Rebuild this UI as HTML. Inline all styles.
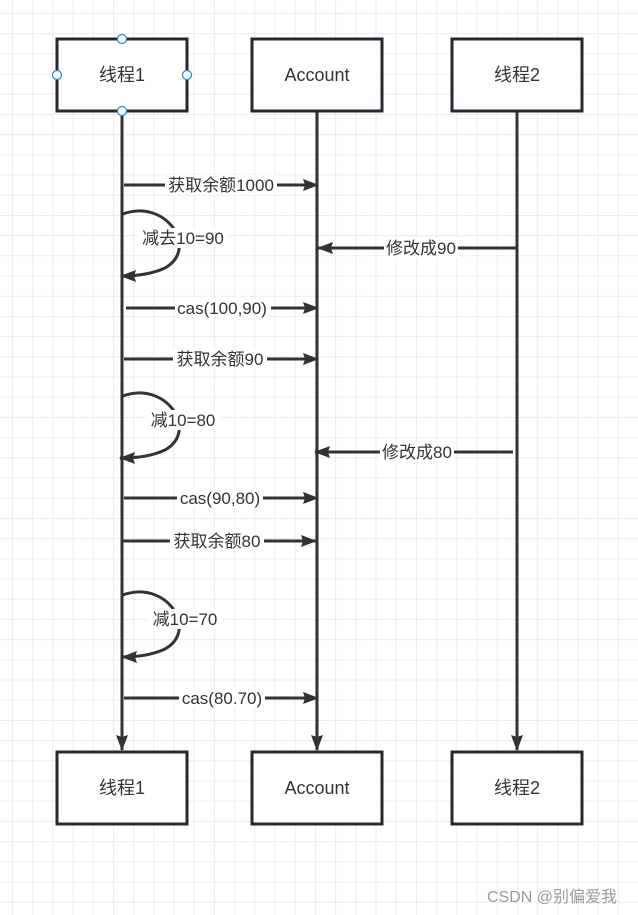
<!DOCTYPE html>
<html><head><meta charset="utf-8"><style>
html,body{margin:0;padding:0;background:#fff}
svg{display:block}
text{font-family:"Liberation Sans","Noto Sans CJK SC",sans-serif;fill:#333}
.t{font-size:17px}
.b{font-size:18px}
</style></head><body>
<svg width="638" height="915" viewBox="0 0 638 915" xmlns="http://www.w3.org/2000/svg">
<defs>
<pattern id="g" x="12" y="13" width="20.2" height="20.2" patternUnits="userSpaceOnUse">
<path d="M0 0H20.2M0 0V20.2" stroke="#e6e6e6" stroke-width="1.5" fill="none"/>
</pattern>
<marker id="a" markerWidth="16" markerHeight="12" refX="15" refY="6" orient="auto" markerUnits="userSpaceOnUse">
<path d="M0 0L16 6L0 12L2 6Z" fill="#333"/>
</marker>
</defs>
<rect width="638" height="915" fill="url(#g)"/>
<g stroke="#333" stroke-width="3" fill="none">
<line x1="122" y1="111" x2="122" y2="750" marker-end="url(#a)"/>
<line x1="317" y1="111" x2="317" y2="750" marker-end="url(#a)"/>
<line x1="517" y1="111" x2="517" y2="750" marker-end="url(#a)"/>
<line x1="124" y1="185" x2="318" y2="185" marker-end="url(#a)"/>
<line x1="516" y1="248" x2="318" y2="248" marker-end="url(#a)"/>
<line x1="126" y1="308" x2="318" y2="308" marker-end="url(#a)"/>
<line x1="124" y1="359" x2="318" y2="359" marker-end="url(#a)"/>
<line x1="513" y1="452" x2="315" y2="452" marker-end="url(#a)"/>
<line x1="124" y1="498" x2="318" y2="498" marker-end="url(#a)"/>
<line x1="122" y1="541" x2="316" y2="541" marker-end="url(#a)"/>
<line x1="124" y1="698" x2="318" y2="698" marker-end="url(#a)"/>
<path d="M123 214C165 198 200 248 165 268C152 274 138 276 121 276" marker-end="url(#a)"/>
<path d="M123 396C165 380 200 430 165 450C152 456 138 458 120 458" marker-end="url(#a)"/>
<path d="M123 595C165 579 200 629 165 649C152 655 138 657 122 657" marker-end="url(#a)"/>
</g>
<g fill="#fff" stroke="#222a30" stroke-width="3">
<rect x="57" y="39" width="130" height="72"/>
<rect x="252" y="39" width="130" height="72"/>
<rect x="452" y="39" width="130" height="72"/>
<rect x="57" y="752" width="130" height="72"/>
<rect x="252" y="752" width="130" height="72"/>
<rect x="452" y="752" width="130" height="72"/>
</g>
<g fill="#fff" stroke="#1e88e5" stroke-width="1.2">
<circle cx="122" cy="39" r="4.5"/><circle cx="57" cy="75" r="4.5"/><circle cx="187" cy="75" r="4.5"/><circle cx="122" cy="111" r="4.5"/>
</g>
<g fill="#fff">
<rect x="165" y="175" width="112" height="20"/>
<rect x="137" y="228" width="92" height="20"/>
<rect x="384" y="238" width="74" height="20"/>
<rect x="175" y="298" width="96" height="20"/>
<rect x="173" y="349" width="94" height="20"/>
<rect x="146" y="410" width="74" height="20"/>
<rect x="380" y="442" width="74" height="20"/>
<rect x="177" y="488" width="86" height="20"/>
<rect x="170" y="531" width="94" height="20"/>
<rect x="148" y="609" width="74" height="20"/>
<rect x="179" y="688" width="86" height="20"/>
</g>
<g text-anchor="middle">
<text class="b" x="122" y="81">线程1</text>
<text class="b" x="317" y="81">Account</text>
<text class="b" x="517" y="81">线程2</text>
<text class="b" x="122" y="794">线程1</text>
<text class="b" x="317" y="794">Account</text>
<text class="b" x="517" y="794">线程2</text>
</g>
<g text-anchor="middle">
<text class="t" x="221" y="191">获取余额1000</text>
<text class="t" x="183" y="244">减去10=90</text>
<text class="t" x="421" y="254">修改成90</text>
<text class="t" x="222" y="314">cas(100,90)</text>
<text class="t" x="220" y="365">获取余额90</text>
<text class="t" x="183" y="426">减10=80</text>
<text class="t" x="417" y="458">修改成80</text>
<text class="t" x="220" y="504">cas(90,80)</text>
<text class="t" x="217" y="547">获取余额80</text>
<text class="t" x="185" y="625">减10=70</text>
<text class="t" x="222" y="704">cas(80.70)</text>
</g>
<text x="487" y="902" style="font-size:16px;fill:#9a9a9a">CSDN @别偏爱我</text>
</svg>
</body></html>
